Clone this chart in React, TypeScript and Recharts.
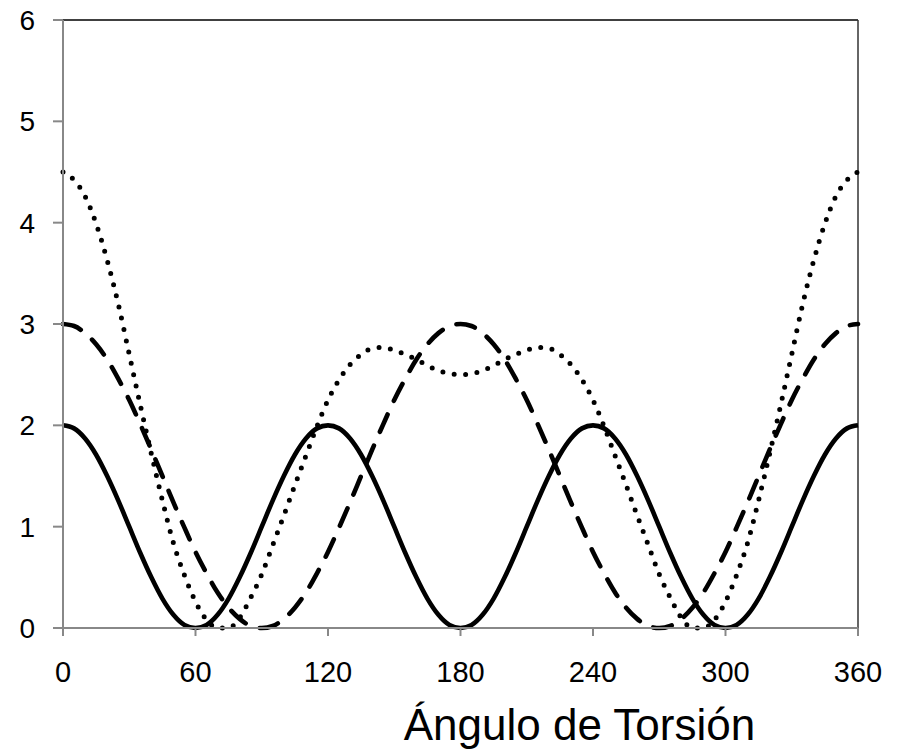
import React from 'react';
import { LineChart, Line, XAxis, YAxis, ReferenceLine } from 'recharts';

const angles = [
  0, 5, 10, 15, 20, 25, 30, 35, 40, 45, 50, 55, 60, 65, 70, 75, 80, 85, 90,
  95, 100, 105, 110, 115, 120, 125, 130, 135, 140, 145, 150, 155, 160, 165, 170, 175, 180,
  185, 190, 195, 200, 205, 210, 215, 220, 225, 230, 235, 240, 245, 250, 255, 260, 265, 270,
  275, 280, 285, 290, 295, 300, 305, 310, 315, 320, 325, 330, 335, 340, 345, 350, 355, 360,
];

const solidSeries = [
  2.0, 1.97, 1.87, 1.71, 1.5, 1.26, 1.0, 0.74, 0.5, 0.29, 0.13, 0.03, 0.0, 0.03, 0.13, 0.29, 0.5, 0.74, 1.0,
  1.26, 1.5, 1.71, 1.87, 1.97, 2.0, 1.97, 1.87, 1.71, 1.5, 1.26, 1.0, 0.74, 0.5, 0.29, 0.13, 0.03, 0.0,
  0.03, 0.13, 0.29, 0.5, 0.74, 1.0, 1.26, 1.5, 1.71, 1.87, 1.97, 2.0, 1.97, 1.87, 1.71, 1.5, 1.26, 1.0,
  0.74, 0.5, 0.29, 0.13, 0.03, 0.0, 0.03, 0.13, 0.29, 0.5, 0.74, 1.0, 1.26, 1.5, 1.71, 1.87, 1.97, 2.0,
];

const dashedSeries = [
  3.0, 2.98, 2.91, 2.8, 2.65, 2.46, 2.25, 2.01, 1.76, 1.5, 1.24, 0.99, 0.75, 0.54, 0.35, 0.2, 0.09, 0.02, 0.0,
  0.02, 0.09, 0.2, 0.35, 0.54, 0.75, 0.99, 1.24, 1.5, 1.76, 2.01, 2.25, 2.46, 2.65, 2.8, 2.91, 2.98, 3.0,
  2.98, 2.91, 2.8, 2.65, 2.46, 2.25, 2.01, 1.76, 1.5, 1.24, 0.99, 0.75, 0.54, 0.35, 0.2, 0.09, 0.02, 0.0,
  0.02, 0.09, 0.2, 0.35, 0.54, 0.75, 0.99, 1.24, 1.5, 1.76, 2.01, 2.25, 2.46, 2.65, 2.8, 2.91, 2.98, 3.0,
];

const dottedSeries = [
  4.5, 4.42, 4.26, 3.99, 3.63, 3.2, 2.7, 2.2, 1.72, 1.26, 0.84, 0.52, 0.26, 0.08, 0.0, 0.0, 0.1, 0.3, 0.53,
  0.82, 1.11, 1.41, 1.7, 1.99, 2.25, 2.45, 2.6, 2.7, 2.76, 2.77, 2.74, 2.7, 2.65, 2.59, 2.54, 2.51, 2.5,
  2.51, 2.54, 2.59, 2.65, 2.7, 2.74, 2.77, 2.76, 2.7, 2.6, 2.45, 2.25, 1.99, 1.7, 1.41, 1.11, 0.82, 0.53,
  0.3, 0.1, 0.0, 0.0, 0.08, 0.26, 0.52, 0.84, 1.26, 1.72, 2.2, 2.7, 3.2, 3.63, 3.99, 4.26, 4.42, 4.5,
];

const xTicks = [0, 60, 120, 180, 240, 300, 360];
const yTicks = [0, 1, 2, 3, 4, 5, 6];
const xTitle = 'Ángulo de Torsión';

const data = angles.map((a, i) => ({
  angle: a,
  solid: solidSeries[i],
  dashed: dashedSeries[i],
  dotted: dottedSeries[i],
}));

const FONT = '"Liberation Sans", Arial, Helvetica, sans-serif';

export default function App() {
  return (
    <div style={{ position: 'fixed', left: 0, top: 0, width: 899, height: 755, background: '#fff' }}>
      <LineChart
        width={899}
        height={755}
        data={data}
        margin={{ top: 20, right: 41, left: 0, bottom: 0 }}
      >
        <XAxis
          dataKey="angle"
          type="number"
          domain={[0, 360]}
          ticks={xTicks}
          interval={0}
          height={127}
          stroke="#888888"
          strokeWidth={2}
          tickSize={8}
          tickMargin={25}
          tick={{ fontSize: 29, fill: '#000', fontFamily: FONT }}
          tickLine={{ stroke: '#888888', strokeWidth: 2 }}
          label={{
            value: xTitle,
            position: 'insideBottom',
            offset: 15,
            dx: 119,
            style: { fontSize: 44, fill: '#000', fontFamily: FONT },
          }}
        />
        <YAxis
          type="number"
          domain={[0, 6]}
          ticks={yTicks}
          interval={0}
          width={63}
          stroke="#888888"
          strokeWidth={2}
          tickSize={10}
          tickMargin={18}
          tick={{ fontSize: 28, fill: '#000', fontFamily: FONT }}
          tickLine={{ stroke: '#888888', strokeWidth: 2 }}
        />
        <ReferenceLine y={6} stroke="#000" strokeWidth={1.5} />
        <ReferenceLine x={360} stroke="#333" strokeWidth={1.5} />
        <Line
          type="monotone"
          dataKey="solid"
          stroke="#000"
          strokeWidth={4.6}
          dot={false}
          isAnimationActive={false}
        />
        <Line
          type="monotone"
          dataKey="dashed"
          stroke="#000"
          strokeWidth={4.6}
          strokeDasharray="19 15"
          strokeLinecap="round"
          dot={false}
          isAnimationActive={false}
        />
        <Line
          type="monotone"
          dataKey="dotted"
          stroke="#000"
          strokeWidth={5}
          strokeDasharray="0 11.5"
          strokeLinecap="round"
          dot={false}
          isAnimationActive={false}
        />
      </LineChart>
    </div>
  );
}
